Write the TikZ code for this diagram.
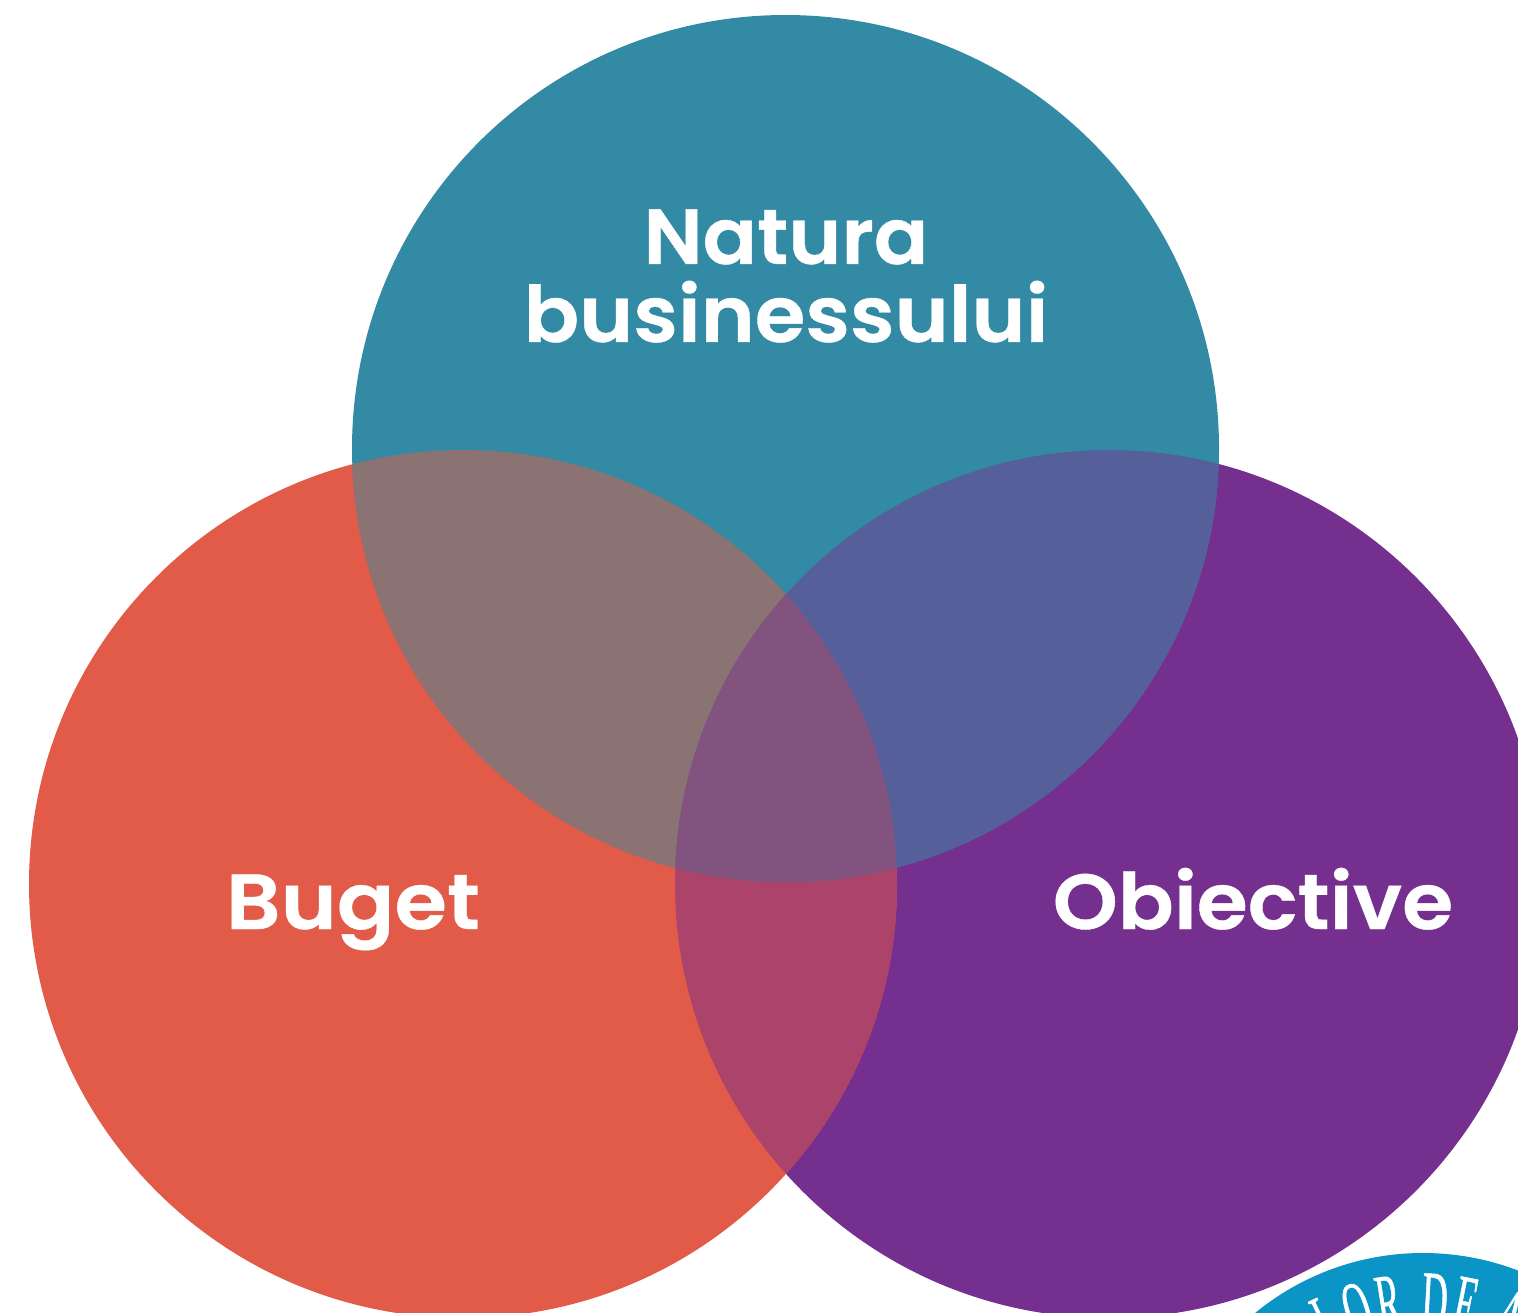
\documentclass[tikz,border=0pt]{standalone}
\usepackage{fontspec}
\setmainfont{Poppins}
\newfontfamily\fn[FakeStretch=1.03,FakeBold=0.5]{Poppins SemiBold}
\newfontfamily\fa[FakeStretch=1.05,FakeBold=0.5]{Poppins SemiBold}
\newfontfamily\fb[FakeStretch=1.09,FakeBold=0.5]{Poppins SemiBold}
\newfontfamily\fc[FakeStretch=1.06,FakeBold=0.5]{Poppins SemiBold}
\newfontfamily\capfont[FakeStretch=0.45,FakeBold=0.6]{Liberation Serif}
\usetikzlibrary{decorations.text}
\definecolor{cT}{HTML}{328AA5}
\definecolor{cR}{HTML}{E15B48}
\definecolor{cP}{HTML}{75308F}
\definecolor{cRT}{HTML}{8A7372}
\definecolor{cTP}{HTML}{555F9A}
\definecolor{cRP}{HTML}{AB436A}
\definecolor{cAll}{HTML}{82537F}
\definecolor{cB}{HTML}{0B94C6}
\tikzset{
 lbl/.style={text=white,align=center,inner sep=0pt},
}
\begin{document}
\begin{tikzpicture}[x=1pt,y=-1pt]
\useasboundingbox (0,0) rectangle (1518,1312);
\clip (0,0) rectangle (1518,1312);
\def\Rd{434}
\def\Rt{433.5}
\fill[cP] (1109,884) circle[radius=\Rd];
\fill[cR] (463,884) circle[radius=\Rd];
\fill[cT] (785.5,448.5) circle[radius=\Rt];
\begin{scope}\clip (463,884) circle[radius=\Rd]; \fill[cRP] (1109,884) circle[radius=\Rd]; \end{scope}
\begin{scope}\clip (785.5,448.5) circle[radius=\Rt]; \fill[cRT] (463,884) circle[radius=\Rd]; \fill[cTP] (1109,884) circle[radius=\Rd];
 \clip (463,884) circle[radius=\Rd]; \fill[cAll] (1109,884) circle[radius=\Rd]; \end{scope}
\fill[cB] (1423,1518) circle[radius=265];
\path[postaction={decorate},decoration={text along path,text align={fit to path},text={|\capfont\fontsize{80}{80}\selectfont\color{white}|LOR DE A}}]
 (1423,1518) ++(-119:192) arc[start angle=-119,end angle=-63,radius=192];
\node[lbl,font=\fontsize{78}{78}\selectfont] (natura) at (786,276) {{\fn Natura}\\{\fa businessului}};
\node[lbl,anchor=base,font=\fb\fontsize{78}{78}\selectfont] (buget) at (353,929) {Buget};
\node[lbl,anchor=base,font=\fc\fontsize{78}{78}\selectfont] (obiective) at (1253,929) {Obiective};
\end{tikzpicture}
\end{document}
